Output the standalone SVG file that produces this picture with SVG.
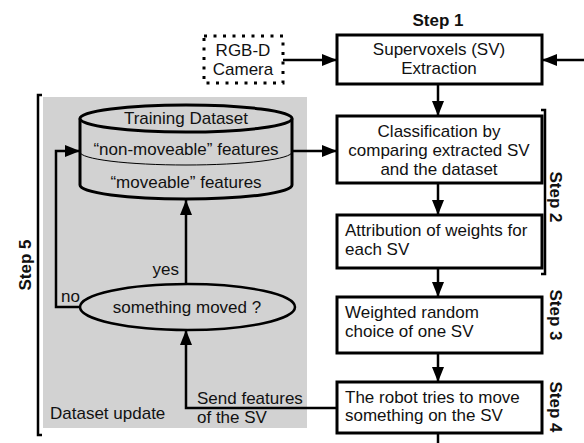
<svg xmlns="http://www.w3.org/2000/svg" width="584" height="443" viewBox="0 0 584 443">
<defs>
<marker id="ah" markerUnits="userSpaceOnUse" markerWidth="16" markerHeight="12" refX="15" refY="6" orient="auto">
<path d="M0,0 L15,6 L0,12 z" fill="#000"/>
</marker>
<style>
text{font-family:"Liberation Sans",Arial,sans-serif;font-size:17px;fill:#111}
.b{font-weight:bold;font-size:17px}
.box{fill:#fff;stroke:#000;stroke-width:3}
.c{fill:none;stroke:#000;stroke-width:2.5}
.m{text-anchor:middle}
</style>
</defs>
<rect x="43" y="97" width="264" height="331" fill="#d2d2d2"/>
<path d="M42,95 H38 V435 H42" fill="none" stroke="#000" stroke-width="2.5"/>
<path d="M541,110 H545 V274 H541" fill="none" stroke="#000" stroke-width="2.5"/>
<text class="b m" x="438" y="26">Step 1</text>
<text class="b m" transform="translate(550,197) rotate(90)">Step 2</text>
<text class="b m" transform="translate(550,315) rotate(90)">Step 3</text>
<text class="b m" transform="translate(550,407) rotate(90)">Step 4</text>
<text class="b m" transform="translate(31,265) rotate(-90)">Step 5</text>
<g id="connectors">
<line class="c" x1="283" y1="60" x2="337" y2="60" marker-end="url(#ah)"/>
<line class="c" x1="584" y1="60" x2="542" y2="60" marker-end="url(#ah)"/>
<line class="c" x1="438" y1="84" x2="438" y2="116" marker-end="url(#ah)"/>
<line class="c" x1="438" y1="183" x2="438" y2="215" marker-end="url(#ah)"/>
<line class="c" x1="438" y1="268" x2="438" y2="297" marker-end="url(#ah)"/>
<line class="c" x1="438" y1="353" x2="438" y2="382" marker-end="url(#ah)"/>
<line class="c" x1="438" y1="433" x2="438" y2="443"/>
<line class="c" x1="292" y1="151" x2="337" y2="151" marker-end="url(#ah)"/>
<polyline class="c" points="337,408 186,408 186,330" marker-end="url(#ah)"/>
<line class="c" x1="186" y1="284" x2="186" y2="200" marker-end="url(#ah)"/>
<polyline class="c" points="80,307 56,307 56,151 80,151" marker-end="url(#ah)"/>
<text x="179" y="275" text-anchor="end">yes</text>
<text x="61" y="302">no</text>
<text x="197" y="404">Send features</text>
<text x="197" y="423">of the SV</text>
</g>
<g id="camera">
<rect x="204" y="36" width="79" height="47" fill="#fff" stroke="#000" stroke-width="3" stroke-dasharray="3 6.5"/>
<text class="m" x="243" y="56">RGB-D</text>
<text class="m" x="243" y="75">Camera</text>
</g>
<g id="sv-extraction">
<rect class="box" x="337" y="35" width="205" height="49"/>
<text class="m" x="439" y="55">Supervoxels (SV)</text>
<text class="m" x="439" y="74">Extraction</text>
</g>
<g id="classification">
<rect class="box" x="337" y="116" width="205" height="67"/>
<text class="m" x="439" y="137">Classification by</text>
<text class="m" x="439" y="156">comparing extracted SV</text>
<text class="m" x="439" y="175">and the dataset</text>
</g>
<g id="attribution">
<rect class="box" x="337" y="215" width="205" height="53"/>
<text x="345" y="236">Attribution of weights for</text>
<text x="345" y="255">each SV</text>
</g>
<g id="weighted">
<rect class="box" x="337" y="297" width="205" height="56"/>
<text x="345" y="318">Weighted random</text>
<text x="345" y="337">choice of one SV</text>
</g>
<g id="robot">
<rect class="box" x="337" y="382" width="205" height="51"/>
<text x="345" y="403">The robot tries to move</text>
<text x="345" y="421">something on the SV</text>
</g>
<g id="dataset">
<path d="M80,118.5 V185 A106,14 0 0 0 292,185 V118.5" fill="#d2d2d2" stroke="#000" stroke-width="3"/>
<ellipse cx="186" cy="118.5" rx="106" ry="13.5" fill="#d2d2d2" stroke="#000" stroke-width="3"/>
<path d="M80,152 A106,13 0 0 0 292,152" fill="none" stroke="#000" stroke-width="1"/>
<text class="m" x="186" y="124">Training Dataset</text>
<text class="m" x="186" y="155">“non-moveable” features</text>
<text class="m" x="186" y="188">“moveable” features</text>
</g>
<g id="decision">
<ellipse cx="187.5" cy="307" rx="107.5" ry="23" fill="#d2d2d2" stroke="#000" stroke-width="2.5"/>
<text class="m" x="187" y="313">something moved ?</text>
</g>
<text x="50" y="419">Dataset update</text>
</svg>
